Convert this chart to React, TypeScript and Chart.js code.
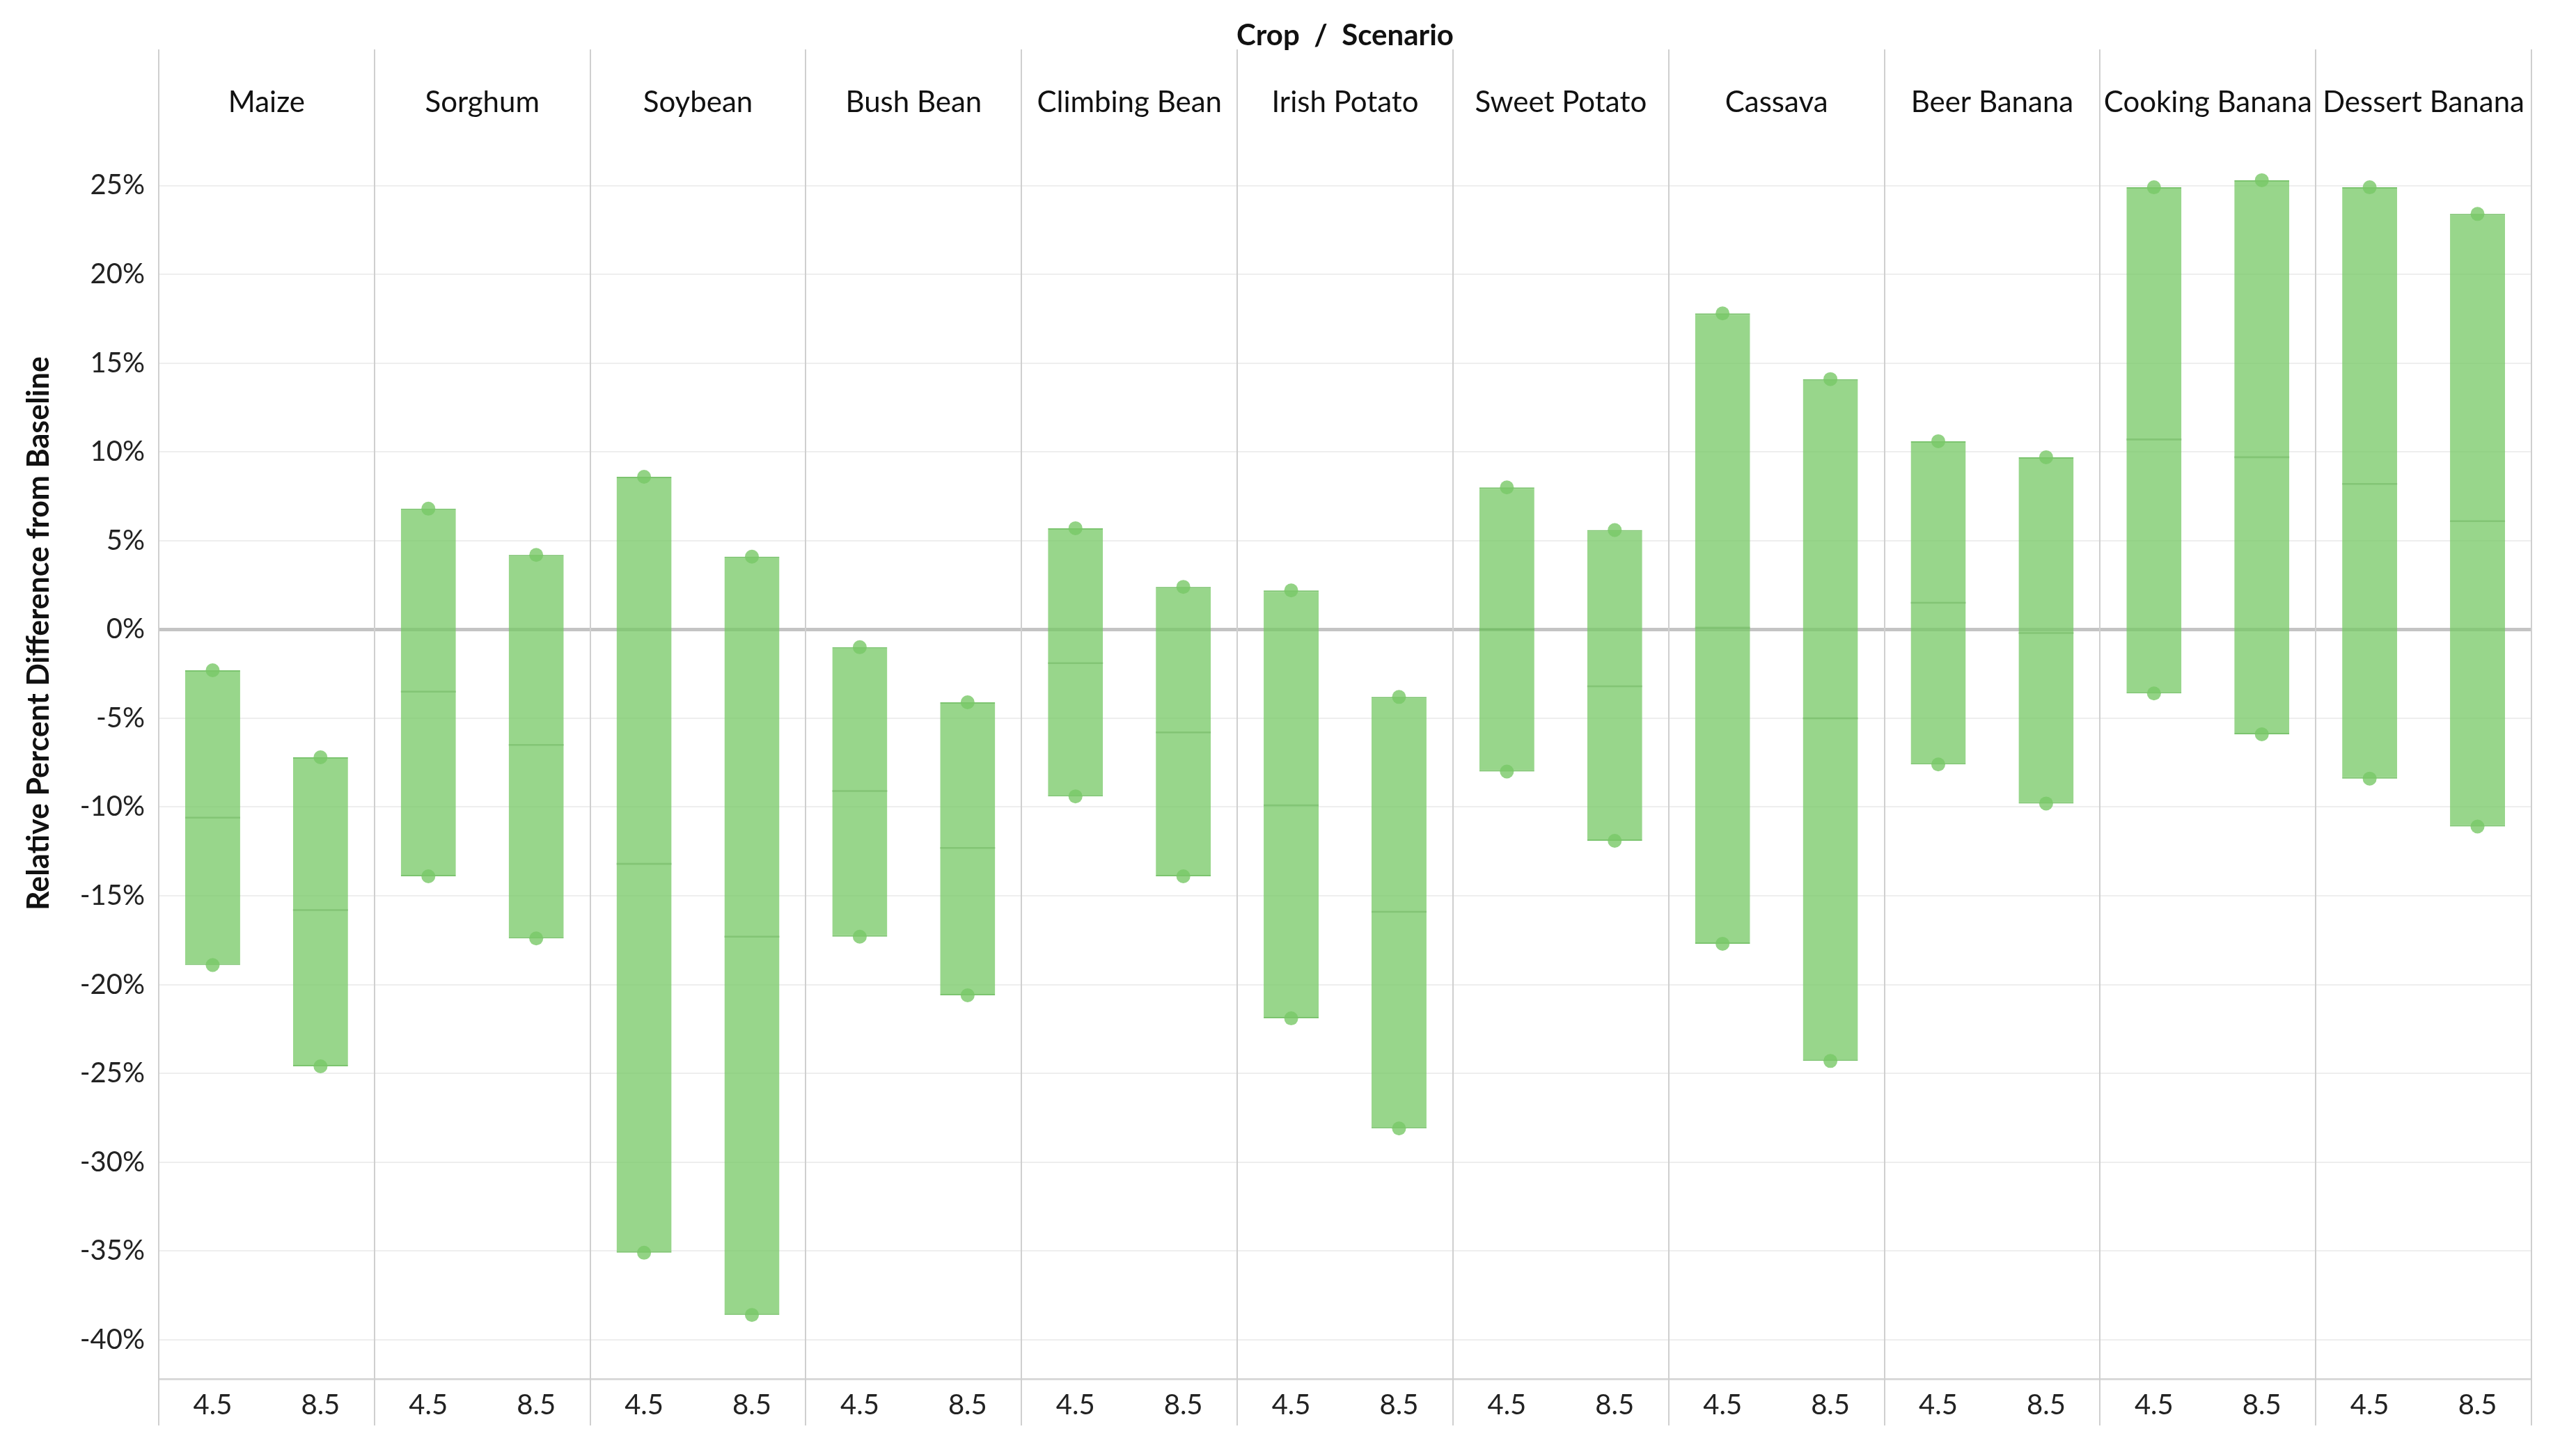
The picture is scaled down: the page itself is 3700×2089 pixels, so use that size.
import React, { useEffect, useRef } from 'react';
import { Chart, registerables } from 'chart.js';

Chart.register(...registerables);

const FONT = "Lato, 'Noto Sans', sans-serif";

const crops = [
  'Maize', 'Sorghum', 'Soybean', 'Bush Bean', 'Climbing Bean', 'Irish Potato',
  'Sweet Potato', 'Cassava', 'Beer Banana', 'Cooking Banana', 'Dessert Banana',
];
const scenarios = ['4.5', '8.5'];

// RCP 4.5
const low45 = [-18.9, -13.9, -35.1, -17.3, -9.4, -21.9, -8.0, -17.7, -7.6, -3.6, -8.4];
const high45 = [-2.3, 6.8, 8.6, -1.0, 5.7, 2.2, 8.0, 17.8, 10.6, 24.9, 24.9];
const mid45 = [-10.6, -3.5, -13.2, -9.1, -1.9, -9.9, 0.0, 0.1, 1.5, 10.7, 8.2];
// RCP 8.5
const low85 = [-24.6, -17.4, -38.6, -20.6, -13.9, -28.1, -11.9, -24.3, -9.8, -5.9, -11.1];
const high85 = [-7.2, 4.2, 4.1, -4.1, 2.4, -3.8, 5.6, 14.1, 9.7, 25.3, 23.4];
const mid85 = [-15.8, -6.5, -17.3, -12.3, -5.8, -15.9, -3.2, -5.0, -0.2, 9.7, 6.1];

const yMin = -42.2;
const yMax = 28;
const yStep = 5;
const yTitle = 'Relative Percent Difference from Baseline';
const topTitle = 'Crop  /  Scenario';

const labels = crops.flatMap(() => scenarios);
const pair = (a: number[], b: number[]) => crops.flatMap((_, i) => [a[i], b[i]]);
const lows = pair(low45, low85);
const highs = pair(high45, high85);
const mids = pair(mid45, mid85);

const facetPlugin = {
  id: 'facets',
  afterDraw(chart: any) {
    const { ctx, chartArea, scales } = chart;
    const x = scales.x;
    ctx.save();
    // panel dividers
    ctx.strokeStyle = '#cfcfcf';
    ctx.lineWidth = 2;
    const bounds: number[] = [chartArea.left];
    for (let i = 1; i < crops.length; i++) {
      bounds.push((x.getPixelForValue(2 * i - 1) + x.getPixelForValue(2 * i)) / 2);
    }
    bounds.push(chartArea.right);
    bounds.forEach((b) => {
      const xx = Math.round(b);
      ctx.beginPath();
      ctx.moveTo(xx, 71);
      ctx.lineTo(xx, 2048);
      ctx.stroke();
    });
    // crop headers
    ctx.fillStyle = '#111';
    ctx.font = `42px ${FONT}`;
    ctx.textAlign = 'center';
    ctx.textBaseline = 'alphabetic';
    crops.forEach((c, i) => {
      const cx = (x.getPixelForValue(2 * i) + x.getPixelForValue(2 * i + 1)) / 2;
      ctx.fillText(c, cx, 161);
    });
    // top title
    ctx.font = `bold 42px ${FONT}`;
    ctx.fillText(topTitle, (chartArea.left + chartArea.right) / 2, 65);
    // y title
    ctx.translate(56, 910);
    ctx.rotate(-Math.PI / 2);
    ctx.textBaseline = 'middle';
    ctx.font = `bold 43px ${FONT}`;
    ctx.fillText(yTitle, 0, 0);
    ctx.restore();
  },
};

export default function App() {
  const ref = useRef<HTMLCanvasElement>(null);
  useEffect(() => {
    document.body.style.margin = '0';
    document.body.style.overflow = 'hidden';
    const canvas = ref.current;
    if (!canvas) return;
    const chart = new Chart(canvas, {
      type: 'bar',
      data: {
        labels,
        datasets: [
          {
            type: 'line',
            label: 'high',
            data: highs,
            showLine: false,
            pointRadius: 10,
            pointBackgroundColor: 'rgba(120,200,102,0.8)',
            pointBorderWidth: 0,
            order: 1,
          } as any,
          {
            type: 'line',
            label: 'low',
            data: lows,
            showLine: false,
            pointRadius: 10,
            pointBackgroundColor: 'rgba(120,200,102,0.8)',
            pointBorderWidth: 0,
            order: 1,
          } as any,
          {
            type: 'bar',
            label: 'median',
            data: mids.map((m) => [m - 0.05, m + 0.05]),
            backgroundColor: 'rgba(110,180,95,0.5)',
            borderWidth: 0,
            grouped: false,
            barPercentage: 0.51,
            categoryPercentage: 1,
            order: 2,
          } as any,
          {
            type: 'bar',
            label: 'range',
            data: lows.map((l, i) => [l, highs[i]]),
            backgroundColor: 'rgba(118,200,100,0.75)',
            borderColor: 'rgba(110,190,95,0.9)',
            borderWidth: { top: 2, bottom: 2, left: 0, right: 0 },
            borderSkipped: false,
            grouped: false,
            barPercentage: 0.51,
            categoryPercentage: 1,
            order: 3,
          } as any,
        ],
      },
      options: {
        animation: false,
        responsive: false,
        devicePixelRatio: 1,
        layout: { padding: { top: 190, right: 64, left: 0, bottom: 0 } },
        plugins: { legend: { display: false }, tooltip: { enabled: false } },
        scales: {
          x: {
            type: 'category',
            offset: true,
            grid: { display: false, drawTicks: false },
            border: { display: true, color: '#d9d9d9', width: 3 },
            ticks: { color: '#222', font: { family: FONT, size: 40 }, padding: 14, maxRotation: 0, autoSkip: false },
            afterFit: (s: any) => { s.height = 108; },
          },
          y: {
            min: yMin,
            max: yMax,
            grid: {
              drawTicks: false,
              color: (c: any) => (c.tick && c.tick.value === 0 ? '#c4c4c4' : '#eeeeee'),
              lineWidth: (c: any) => (c.tick && c.tick.value === 0 ? 5 : 2),
            },
            border: { display: false },
            ticks: {
              stepSize: yStep,
              includeBounds: false,
              color: '#222',
              font: { family: FONT, size: 40 },
              padding: 20,
              callback: (v: any) => `${v}%`,
            },
            afterFit: (s: any) => { s.width = 228; },
          },
        },
      },
      plugins: [facetPlugin],
    });
    return () => chart.destroy();
  }, []);
  return (
    <div style={{ width: 3700, height: 2089 }}>
      <canvas ref={ref} width={3700} height={2089} style={{ display: 'block', width: 3700, height: 2089 }} />
    </div>
  );
}
